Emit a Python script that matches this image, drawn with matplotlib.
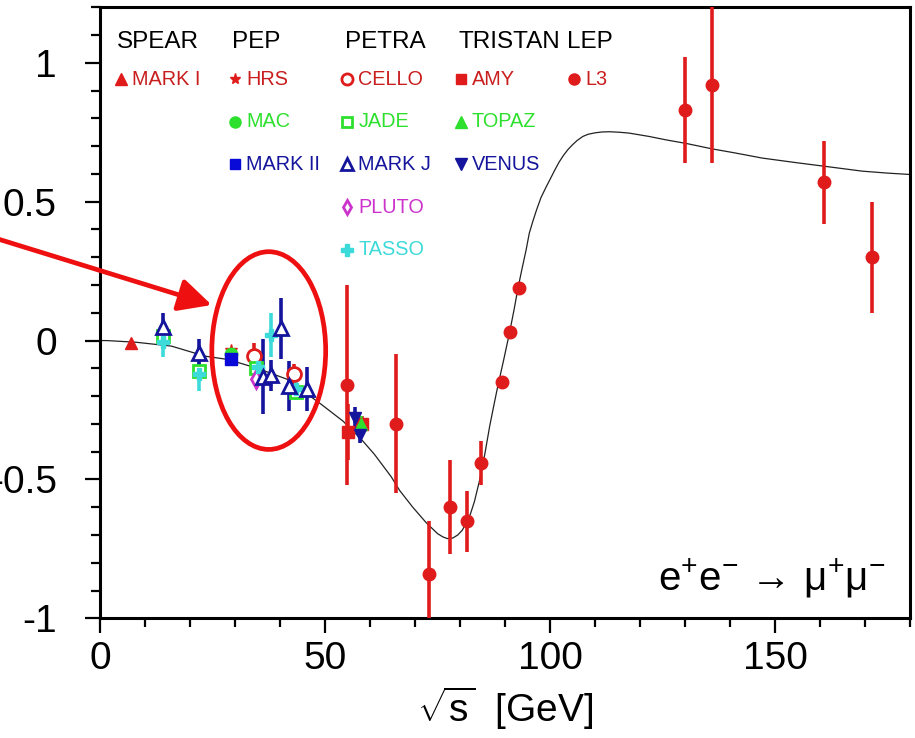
import matplotlib
matplotlib.use("Agg")
import matplotlib.pyplot as plt
from matplotlib.patches import Ellipse
from matplotlib.ticker import MultipleLocator, FixedLocator

plt.rcParams['font.family'] = ['Liberation Sans', 'DejaVu Sans']
plt.rcParams['axes.unicode_minus'] = False
plt.rcParams['mathtext.fontset'] = 'custom'
plt.rcParams['mathtext.rm'] = 'Liberation Sans'
plt.rcParams['mathtext.it'] = 'Liberation Sans:italic'
plt.rcParams['mathtext.bf'] = 'Liberation Sans:bold'

# ---------------- data ----------------
# SPEAR
markI_E = [6.8]
markI_A = [-0.01]
markI_err = [0.01]
# PEP
hrs_E = [29.0]
hrs_A = [-0.035]
hrs_err = [0.01]
mac_E = [29.0]
mac_A = [-0.05]
mac_err = [0.01]
markII_E = [29.0]
markII_A = [-0.068]
markII_err = [0.01]
# PETRA
cello_E = [34.2, 43.0]
cello_A = [-0.055, -0.12]
cello_err = [0.045, 0.035]
jade_E = [14.0, 22.0, 34.6, 43.5]
jade_A = [0.015, -0.11, -0.10, -0.185]
jade_err = [0.03, 0.035, 0.03, 0.03]
markJ_E = [13.9, 22.0, 36.3, 38.1, 40.2, 41.9, 45.9]
markJ_A = [0.05, -0.045, -0.13, -0.125, 0.045, -0.165, -0.175]
markJ_err = [0.05, 0.05, 0.135, 0.055, 0.11, 0.09, 0.08]
pluto_E = [34.7]
pluto_A = [-0.14]
pluto_err = [0.02]
tasso_E = [14.0, 22.0, 35.1, 38.0, 43.6]
tasso_A = [-0.005, -0.12, -0.095, 0.02, -0.175]
tasso_err = [0.055, 0.06, 0.03, 0.078, 0.04]
# TRISTAN
amy_E = [55.0, 58.2]
amy_A = [-0.33, -0.30]
amy_err = [0.10, 0.03]
topaz_E = [57.9]
topaz_A = [-0.30]
topaz_err = [0.03]
venus_E = [56.6, 57.7]
venus_A = [-0.28, -0.34]
venus_err = [0.04, 0.03]
# LEP
l3_E = [54.8, 65.7, 73.0, 77.7, 81.5, 84.6, 89.4, 91.2, 93.0,
        130.0, 136.0, 160.8, 171.5]
l3_A = [-0.16, -0.30, -0.84, -0.60, -0.65, -0.44, -0.15, 0.03, 0.19,
        0.83, 0.92, 0.57, 0.30]
l3_err = [0.36, 0.25, 0.19, 0.17, 0.11, 0.08, 0.01, 0.01, 0.01,
          0.19, 0.28, 0.15, 0.20]

# Standard-model curve, points
curve_E = [0, 1.5, 8, 15.9, 23.3, 28.4, 35, 41.7, 45, 49.2, 54, 58.1, 61,
           64.7, 66.6, 69.5, 72.5, 75, 76.2, 77.2, 78.4, 79.5, 80.5, 81.4,
           82.3, 83.2, 84.4, 85.5, 86.6, 87.5, 88.4, 89.7, 91.0, 92.0, 92.9,
           93.8, 94.7, 95.4, 96.2, 97, 98, 99.2, 100, 101, 102, 103, 104,
           105, 106, 107.3, 108.5, 110, 111.5, 113.2, 115.5, 117.6, 122,
           126, 130.2, 136.1, 141, 147.2, 155, 161.3, 169.4, 175, 180]
curve_A = [0, 0, -0.006, -0.02, -0.056, -0.068, -0.1, -0.14, -0.18, -0.23,
           -0.29, -0.356, -0.41, -0.49, -0.54, -0.6, -0.656, -0.695, -0.707,
           -0.713, -0.711, -0.70, -0.683, -0.656, -0.625, -0.58, -0.5, -0.41,
           -0.308, -0.235, -0.164, -0.07, 0.028, 0.11, 0.19, 0.26, 0.327,
           0.387, 0.43, 0.47, 0.515, 0.555, 0.58, 0.612, 0.642, 0.667, 0.688,
           0.705, 0.72, 0.735, 0.743, 0.748, 0.751, 0.752, 0.75, 0.747, 0.735,
           0.722, 0.71, 0.69, 0.676, 0.657, 0.64, 0.627, 0.61, 0.603, 0.598]

xticks_major = [0, 50, 100, 150]
yticks_major = [-1, -0.5, 0, 0.5, 1]
ytick_labels = ["-1", "-0.5", "0", "0.5", "1"]

groups = ["SPEAR", "PEP", "PETRA", "TRISTAN", "LEP"]

# ---------------- colours ----------------
RED = '#e01b1b'
RED_T = '#c81e1e'
GREEN = '#2ee02e'
BLUE = '#0a0ad8'
DBLUE = '#14149c'
MAG = '#cc33cc'
CYAN = '#3ddada'

# experiment: (group column, row, label, E, A, err, marker, color, text color, filled)
experiments = [
    (0, 1, "MARK I", markI_E, markI_A, markI_err, '^', RED, RED_T, True),
    (1, 1, "HRS", hrs_E, hrs_A, hrs_err, '*', RED, RED_T, True),
    (1, 2, "MAC", mac_E, mac_A, mac_err, 'o', GREEN, GREEN, True),
    (1, 3, "MARK II", markII_E, markII_A, markII_err, 's', BLUE, DBLUE, True),
    (2, 1, "CELLO", cello_E, cello_A, cello_err, 'o', RED, RED_T, False),
    (2, 2, "JADE", jade_E, jade_A, jade_err, 's', GREEN, GREEN, False),
    (2, 4, "PLUTO", pluto_E, pluto_A, pluto_err, 'd', MAG, MAG, False),
    (2, 5, "TASSO", tasso_E, tasso_A, tasso_err, 'P', CYAN, CYAN, True),
    (2, 3, "MARK J", markJ_E, markJ_A, markJ_err, '^', DBLUE, DBLUE, False),
    (3, 1, "AMY", amy_E, amy_A, amy_err, 's', RED, RED_T, True),
    (3, 2, "TOPAZ", topaz_E, topaz_A, topaz_err, '^', GREEN, GREEN, True),
    (3, 3, "VENUS", venus_E, venus_A, venus_err, 'v', DBLUE, DBLUE, True),
    (4, 1, "L3", l3_E, l3_A, l3_err, 'o', RED, RED_T, True),
]

# ---------------- figure ----------------
fig = plt.figure(figsize=(9.15, 7.38), dpi=100)
W, H = 915, 738
ax = fig.add_axes([100 / W, 1 - 618.3 / H, 810 / W, 611 / H])

ax.plot(curve_E, curve_A, color='#222222', lw=0.9, zorder=2)

msize = {'o': 9, 's': 8, '^': 9, 'v': 9, '*': 9, 'd': 8, 'P': 9}
for col, row, lab, E, A, err, mk, c, tc, filled in experiments:
    ax.errorbar(E, A, yerr=err, fmt=mk, color=c, ecolor=c, elinewidth=2.6,
                capsize=0, ms=msize[mk] + (1 if not filled else 0),
                mfc=c if filled else 'white', mec=c,
                mew=2.0 if not filled else 1.0, zorder=4 if lab == "L3" else 3,
                clip_on=True)

ax.set_xlim(0, 180)
ax.set_ylim(-1, 1.2)
ax.xaxis.set_major_locator(FixedLocator(xticks_major))
ax.xaxis.set_minor_locator(MultipleLocator(10))
ax.yaxis.set_major_locator(FixedLocator(yticks_major))
ax.set_yticklabels(ytick_labels)
ax.yaxis.set_minor_locator(MultipleLocator(0.1))
ax.tick_params(axis='both', which='major', direction='out', length=11,
               width=1.6, labelsize=28)
ax.tick_params(axis='both', which='minor', direction='out', length=6.5,
               width=1.6)
ax.tick_params(axis='y', which='major', pad=20)
ax.tick_params(axis='x', which='major', pad=5)
for s in ax.spines.values():
    s.set_linewidth(2.2)

ax.set_xlabel(r'$\sqrt{\mathrm{s}}$  [GeV]', fontsize=28, labelpad=6)

# legend block
col_x = [0.0206, 0.1626, 0.3025, 0.4423, 0.5760]
mark_x = [0.0259, 0.1667, 0.3053, 0.4457, 0.5856]
row_y = [0.9437, 0.8822, 0.8128, 0.7430, 0.6727, 0.6028]
for gi, g in enumerate(groups):
    ax.text(col_x[gi], row_y[0], g, transform=ax.transAxes, fontsize=17.5,
            ha='left', va='center', color='black')
for col, row, lab, E, A, err, mk, c, tc, filled in experiments:
    ax.plot([mark_x[col]], [row_y[row]], marker=mk, transform=ax.transAxes,
            ms=msize[mk] - 1, mfc=c if filled else 'white', mec=c,
            mew=2.0 if not filled else 1.0, ls='none', clip_on=False)
    ax.text(mark_x[col] + 0.0135, row_y[row], lab, transform=ax.transAxes,
            fontsize=14.3, ha='left', va='center', color=tc)

ax.text(0.969, 0.046,
        r'e$^{+}$e$^{-}$$\,\rightarrow\,$$\mathrm{\mu}^{+}\mathrm{\mu}^{-}$',
        transform=ax.transAxes, fontsize=29, ha='right', va='baseline')

# red highlight annotation
ell = Ellipse((37.5, -0.036), width=25.3, height=0.712, fill=False,
              edgecolor='#ee1010', lw=3.4, zorder=6, clip_on=False)
ax.add_patch(ell)
ax.annotate('', xy=(211.7, H - 305), xytext=(-2, H - 239),
            xycoords='figure pixels', textcoords='figure pixels',
            arrowprops=dict(arrowstyle='-|>,head_length=1.0,head_width=0.5',
                            mutation_scale=20, color='#ee1010', lw=3.4,
                            shrinkA=0, shrinkB=0))

fig.savefig('out.png', dpi=100)
